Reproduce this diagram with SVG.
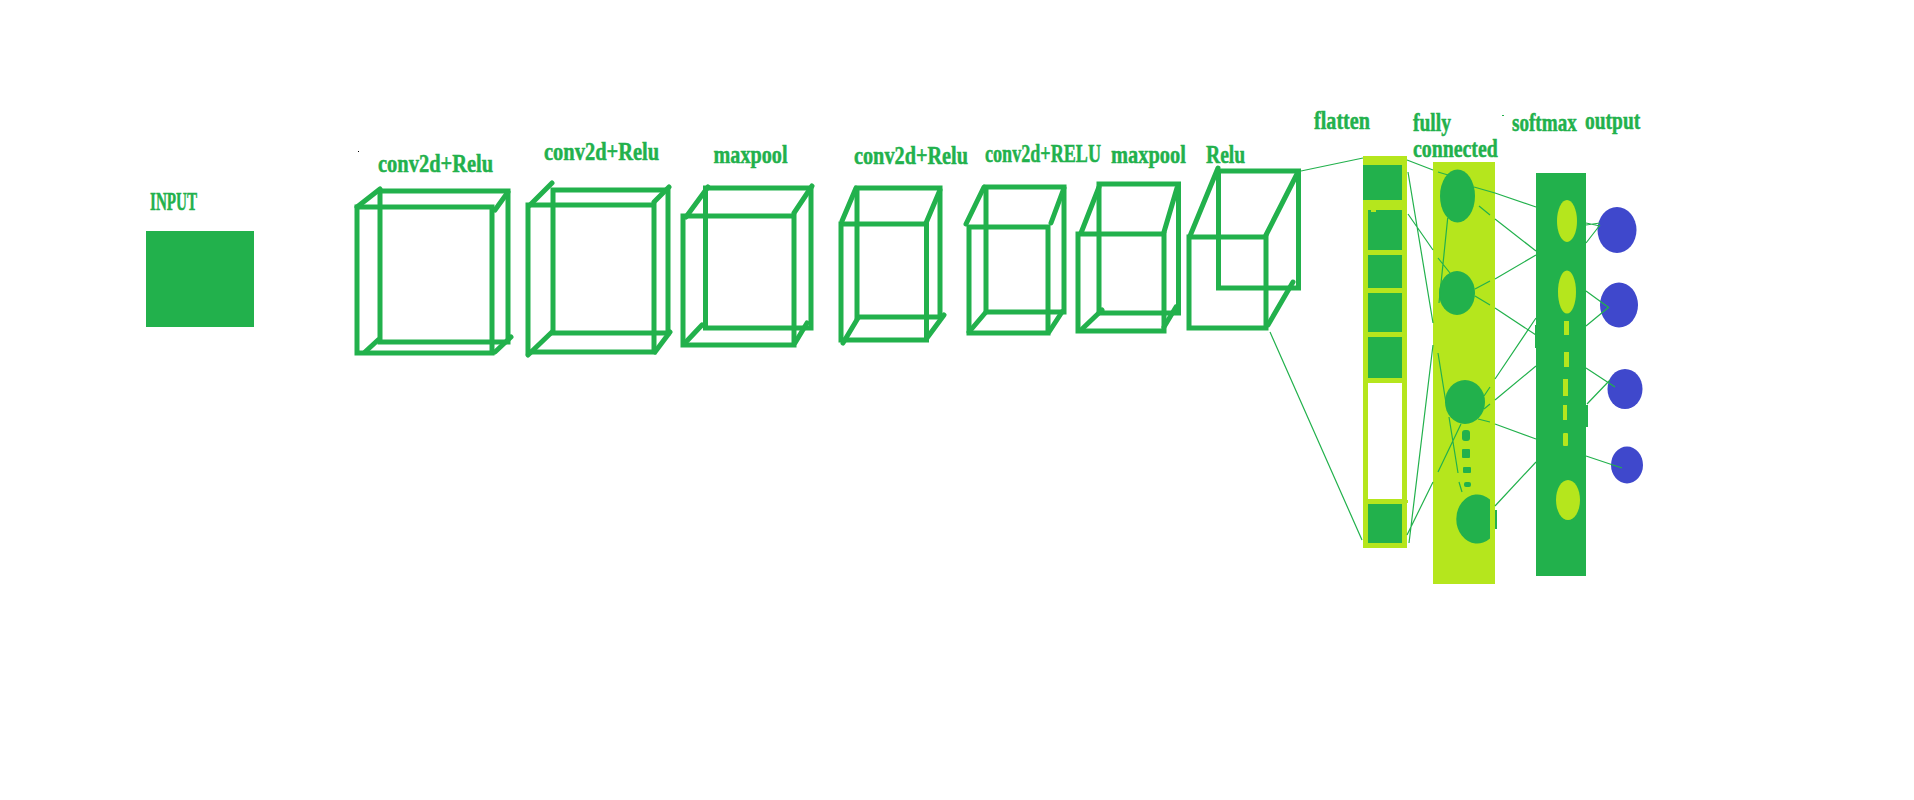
<svg xmlns="http://www.w3.org/2000/svg" width="1914" height="800" viewBox="0 0 1914 800">
<style>
.c{fill:none;stroke:#22b14c;stroke-width:5;stroke-linecap:round}
.r{fill:none;stroke:#22b14c;stroke-width:5}
.g{fill:#22b14c}
.l{fill:#b5e61d}
.b{fill:#3f48cc}
.w{fill:#fff}
.t{fill:#22b14c;stroke:#22b14c;stroke-width:.5;font-family:"Liberation Serif",serif;font-weight:700;font-size:26px}
#connectors path{fill:none;stroke:#22b14c;stroke-width:1.2}
</style>
<rect width="1914" height="800" fill="#fff"/>
<g id="input"><rect class="g" x="146" y="231" width="108" height="96"/><text class="t" transform="translate(150 210) scale(.8 1)" textLength="59" lengthAdjust="spacingAndGlyphs">INPUT</text></g>
<g id="conv1"><text class="t" transform="translate(378 172) scale(.8 1)" textLength="144" lengthAdjust="spacingAndGlyphs">conv2d+Relu</text><rect class="r" x="357" y="207" width="135" height="146"/><rect class="r" x="380" y="191" width="128" height="151"/><path class="c" d="M357 207L380 189M495 210L508 192M365 352L378 340M495 352L511 337"/></g>
<g id="conv2"><text class="t" transform="translate(544 160) scale(.8 1)" textLength="144" lengthAdjust="spacingAndGlyphs">conv2d+Relu</text><rect class="r" x="528" y="205" width="126" height="147"/><rect class="r" x="553" y="190" width="115" height="143"/><path class="c" d="M530 205L552 183M654 202L669 187M528 355L552 332M655 352L670 332"/></g>
<g id="maxpool1"><text class="t" transform="translate(713.500 163) scale(.8 1)" textLength="92.500" lengthAdjust="spacingAndGlyphs">maxpool</text><rect class="r" x="683" y="216" width="111" height="129"/><rect class="r" x="705.500" y="188" width="105.500" height="140"/><path class="c" d="M686 217L708 187M794 213L812 186M685 343L702 325M795 343L807 323"/></g>
<g id="conv3"><text class="t" transform="translate(854 164) scale(.8 1)" textLength="142.500" lengthAdjust="spacingAndGlyphs">conv2d+Relu</text><rect class="r" x="841" y="224" width="85.500" height="116"/><rect class="r" x="857" y="188" width="83" height="129"/><path class="c" d="M842 221L856 188M926 223L940 190M843 343L858 318M927 338L944 315"/></g>
<g id="conv4"><text class="t" transform="translate(985 162) scale(.8 1)" textLength="145" lengthAdjust="spacingAndGlyphs">conv2d+RELU</text><rect class="r" x="969" y="227" width="79" height="106"/><rect class="r" x="986" y="187" width="78" height="125"/><path class="c" d="M966 224L984 187M1051 223L1064 188M969 332L986 312M1049 332L1062 312"/></g>
<g id="maxpool2"><text class="t" transform="translate(1111 163) scale(.8 1)" textLength="93.500" lengthAdjust="spacingAndGlyphs">maxpool</text><rect class="r" x="1078" y="234" width="86" height="97"/><rect class="r" x="1099" y="184" width="79.500" height="129"/><path class="c" d="M1081 233L1099 187M1164 232L1177 188M1081 330L1102 310M1164 327L1176 307"/></g>
<g id="relu"><text class="t" transform="translate(1206 163) scale(.8 1)" textLength="49" lengthAdjust="spacingAndGlyphs">Relu</text><rect class="r" x="1189" y="237" width="77" height="91"/><rect class="r" x="1218.500" y="171" width="80" height="117"/><path class="c" d="M1190 236L1218 168M1266 235L1298 172M1268 325L1293 282"/></g>
<g id="flatten"><text class="t" transform="translate(1314 129) scale(.8 1)" textLength="70" lengthAdjust="spacingAndGlyphs">flatten</text><rect class="l" x="1363" y="156" width="44" height="392"/><rect class="g" x="1363" y="165" width="39" height="35"/><rect class="g" x="1368" y="210" width="34" height="40"/><rect class="l" x="1371" y="210" width="5" height="2"/><rect class="g" x="1368" y="255" width="34" height="33"/><rect class="g" x="1368" y="293" width="34" height="39"/><rect class="g" x="1368" y="337" width="34" height="41"/><rect class="w" x="1368" y="383" width="34" height="116"/><rect class="g" x="1368" y="504" width="34" height="39"/><rect class="l" x="1407" y="500" width="1" height="3"/></g>
<g id="fully-connected"><text class="t" transform="translate(1413 131) scale(.8 1)" textLength="47.500" lengthAdjust="spacingAndGlyphs">fully</text><text class="t" transform="translate(1413 157) scale(.8 1)" textLength="106" lengthAdjust="spacingAndGlyphs">connected</text><rect class="l" x="1433" y="162" width="62" height="422"/></g>
<g id="softmax"><text class="t" transform="translate(1512 131) scale(.8 1)" textLength="81" lengthAdjust="spacingAndGlyphs">softmax</text><rect class="g" x="1536" y="173" width="50" height="403"/><rect class="g" x="1535" y="325" width="2" height="23"/><rect class="g" x="1585" y="405" width="3" height="22"/></g>
<g id="fc-nodes"><ellipse class="g" cx="1457.500" cy="196" rx="17.500" ry="26.500"/><ellipse class="g" cx="1457" cy="293" rx="18" ry="22"/><ellipse class="g" cx="1465" cy="402" rx="20" ry="22"/><rect class="g" x="1462" y="430" width="8" height="11" rx="3"/><rect class="g" x="1462" y="449" width="8" height="9" rx="1"/><rect class="g" x="1463" y="467" width="8" height="6" rx="1"/><rect class="g" x="1464" y="482" width="7" height="5" rx="2"/><path class="g" d="M1490 499.500A21 24.500 0 1 0 1490 538.500Z"/><path class="g" d="M1495 510h2v19h-2z"/></g>
<g id="softmax-nodes"><ellipse class="l" cx="1567" cy="221" rx="10" ry="21"/><ellipse class="l" cx="1567" cy="292" rx="9" ry="21.500"/><rect class="l" x="1564" y="321" width="5" height="14"/><rect class="l" x="1564" y="352" width="5" height="15"/><rect class="l" x="1563" y="379" width="5" height="17"/><rect class="l" x="1563" y="405" width="4" height="15"/><rect class="l" x="1563" y="433" width="5" height="13" rx="1"/><ellipse class="l" cx="1568" cy="500" rx="12" ry="20"/></g>
<g id="output"><text class="t" transform="translate(1585 129) scale(.8 1)" textLength="69" lengthAdjust="spacingAndGlyphs">output</text><ellipse class="b" cx="1617" cy="230" rx="19.500" ry="23"/><ellipse class="b" cx="1619" cy="305" rx="19" ry="22.500"/><ellipse class="b" cx="1625" cy="389" rx="17.500" ry="20"/><ellipse class="b" cx="1627" cy="465" rx="16" ry="18.500"/></g>
<g id="connectors">
<path d="M1301 171L1363 158M1270 332L1362 540M1407 160L1433 170M1438 172L1448 175M1408 172L1433 323M1408 214L1433 250M1438 258L1450 273M1447.700 218L1439 303M1433 345L1409 543M1433 482L1407 535M1438 353L1446 403M1449 417L1458 473M1459 482L1462 492M1461 424L1438 472"/>
<path d="M1474 187L1495 193L1536 207M1479 206L1490 215M1495 219L1536 251M1475 289L1490 281M1495 279L1536 255M1475 296L1490 305M1495 308L1536 335M1495 379L1536 318M1495 400L1536 366M1490 387L1484 396M1490 404L1484 409M1478 419L1490 422M1495 424L1536 439M1495 506L1536 462"/>
<path d="M1586 225L1600 223M1586 223L1600 226M1586 243L1600 225M1586 291L1608 307M1586 326L1609 307M1586 368L1615 387M1587 404L1610 380M1586 456L1622 468"/>
</g>
<rect x="358" y="151" width="1" height="1" fill="#000"/>
<rect x="1502" y="115" width="2" height="1" fill="#22b14c"/>
</svg>
